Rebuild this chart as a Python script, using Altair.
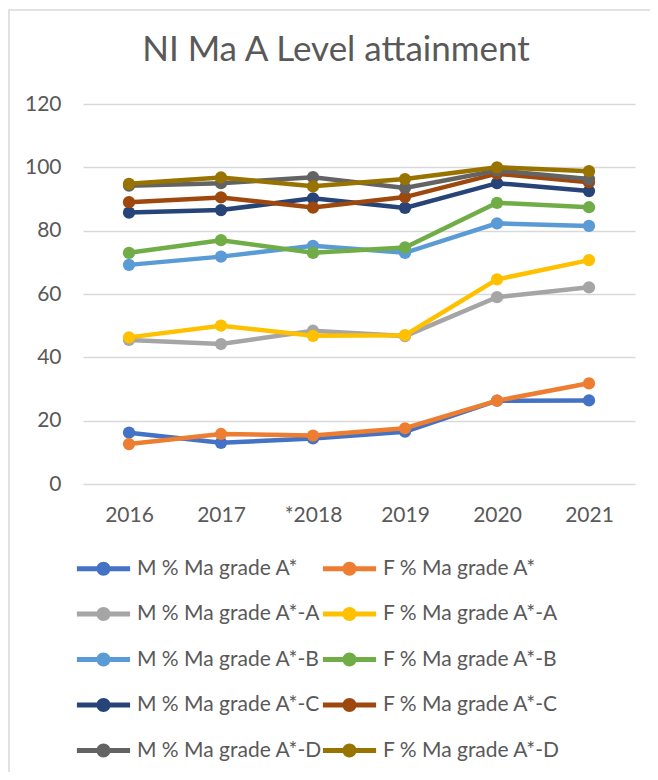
import altair as alt
import pandas as pd

years = ["2016", "2017", "*2018", "2019", "2020", "2021"]
series = [
    "M % Ma grade A*", "F % Ma grade A*",
    "M % Ma grade A*-A", "F % Ma grade A*-A",
    "M % Ma grade A*-B", "F % Ma grade A*-B",
    "M % Ma grade A*-C", "F % Ma grade A*-C",
    "M % Ma grade A*-D", "F % Ma grade A*-D",
]
colors = ["#4472C4", "#ED7D31", "#A5A5A5", "#FFC000", "#5B9BD5",
          "#70AD47", "#264478", "#9E480E", "#636363", "#997300"]

m_astar = [16.2, 13.0, 14.4, 16.5, 26.3, 26.4]
f_astar = [12.6, 15.8, 15.3, 17.6, 26.3, 31.8]
m_a = [45.5, 44.2, 48.4, 46.7, 59.0, 62.1]
f_a = [46.3, 50.0, 46.8, 47.0, 64.6, 70.7]
m_b = [69.2, 71.8, 75.2, 73.0, 82.3, 81.5]
f_b = [73.0, 77.0, 73.0, 74.7, 88.8, 87.4]
m_c = [85.7, 86.5, 90.2, 87.2, 95.0, 92.5]
f_c = [89.0, 90.5, 87.3, 90.6, 98.0, 95.3]
m_d = [94.2, 95.0, 96.9, 93.5, 99.0, 96.3]
f_d = [94.8, 96.8, 94.0, 96.3, 100.0, 98.8]

values = [m_astar, f_astar, m_a, f_a, m_b, f_b, m_c, f_c, m_d, f_d]

rows = []
for s, vals in zip(series, values):
    for y, v in zip(years, vals):
        rows.append({"series": s, "year": y, "value": v})
df = pd.DataFrame(rows)

FONT = "Lato"
TXT = "#595959"

# legend symbol: line with a dot
sym = ("M-3.8,-0.36 L3.8,-0.36 L3.8,0.36 L-3.8,0.36 Z "
       "M1,0 A1,1 0 1,1 -1,0 A1,1 0 1,1 1,0 Z")

x_enc = alt.X("year:N", sort=years,
              scale=alt.Scale(type="point", padding=0.5),
              axis=alt.Axis(title=None, labelAngle=0, domain=False, ticks=False,
                            grid=False, labelFont=FONT, labelFontSize=21,
                            labelColor=TXT, labelPadding=20))
y_enc = alt.Y("value:Q", scale=alt.Scale(domain=[0, 120]),
              axis=alt.Axis(title=None, values=[0, 20, 40, 60, 80, 100, 120],
                            domain=False, ticks=False, gridColor="#D9D9D9",
                            gridWidth=1.5, labelFont=FONT, labelFontSize=21,
                            labelColor=TXT, labelPadding=22))

legend = alt.Legend(orient="none", legendX=10, legendY=454, columns=2,
                    direction="horizontal",
                    title=None, symbolType=sym, symbolSize=196,
                    symbolStrokeWidth=0, labelFont=FONT, labelFontSize=21,
                    labelColor=TXT, labelOffset=23, rowPadding=23.5,
                    columnPadding=0, gridAlign="all", labelLimit=300)

color_enc = alt.Color("series:N", scale=alt.Scale(domain=series, range=colors),
                      legend=legend)

base = alt.Chart(df)

border = alt.Chart(alt.Data(values=[{"a": 1}])).mark_rect(
    fill=None, stroke="#D9D9D9", strokeWidth=1.5
).encode(x=alt.value(-74), x2=alt.value(700), y=alt.value(-94), y2=alt.value(900))

layers = [border]
for s, c in zip(series, colors):
    sub = base.transform_filter(alt.datum.series == s)
    layers.append(sub.mark_line(color=c, strokeWidth=4.5).encode(x=x_enc, y=y_enc))
    layers.append(sub.mark_point(filled=True, size=150, opacity=1).encode(
        x=x_enc, y=y_enc, color=color_enc))

chart = alt.layer(*layers).properties(
    width=552, height=380,
    title=alt.TitleParams("NI Ma A Level attainment", font=FONT, fontSize=35,
                          color=TXT, fontWeight="normal", anchor="middle",
                          frame="group", dx=-23, dy=87,
                          baseline="alphabetic", offset=0),
    autosize=alt.AutoSizeParams(type="none"),
    padding={"left": 75, "top": 96, "right": 15, "bottom": 288},
).configure_view(stroke=None)

chart.save("out.html", embed_options={"renderer": "svg", "actions": False})
